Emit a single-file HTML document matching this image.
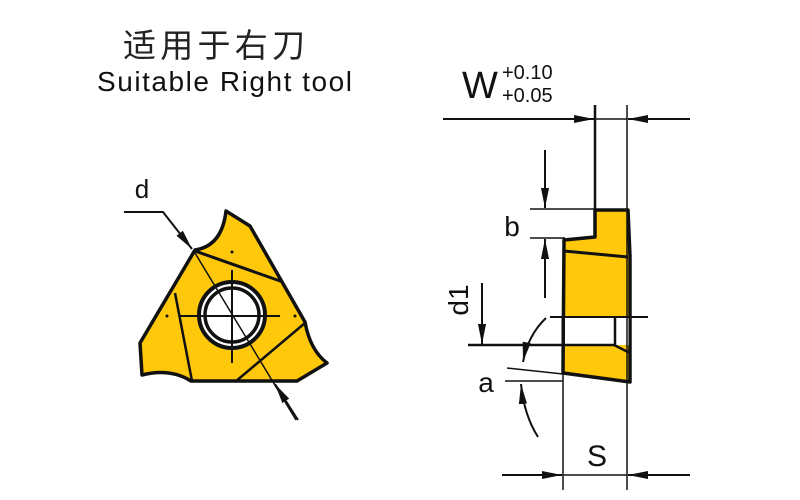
<!DOCTYPE html>
<html><head><meta charset="utf-8"><style>
html,body{margin:0;padding:0;background:#fff;width:800px;height:500px;overflow:hidden}
</style></head><body>
<svg width="800" height="500" viewBox="0 0 800 500" xmlns="http://www.w3.org/2000/svg">
<defs>
<marker id="ar" viewBox="0 0 10 10" refX="10" refY="5" markerWidth="20" markerHeight="9" markerUnits="userSpaceOnUse" orient="auto-start-reverse" preserveAspectRatio="none"><path d="M0,0.5 L10,5 L0,9.5 Z" fill="#111"/></marker>
</defs>
<text x="123" y="57" textLength="182" lengthAdjust="spacing" font-family="'Liberation Sans','Noto Sans CJK SC',sans-serif" font-size="33" fill="#222">适用于右刀</text>
<text x="97" y="91" textLength="255" lengthAdjust="spacing" font-family="'Liberation Sans',sans-serif" font-size="28" fill="#111">Suitable Right tool</text>

<!-- left insert -->
<path d="M226,211 L250,226 L305,322 Q310,350 327,363 L297,381 L191,381 Q170,368 142,375 L140,343 L195,250 Q222,246 226,211 Z" fill="#FFC80A" stroke="#111" stroke-width="3.5" stroke-linejoin="round"/>
<line x1="195" y1="251" x2="283" y2="282" stroke="#111" stroke-width="3"/>
<line x1="175" y1="293" x2="192" y2="381" stroke="#111" stroke-width="2.5"/>
<line x1="235" y1="382" x2="305" y2="323" stroke="#111" stroke-width="2.5"/>
<circle cx="232" cy="315" r="33" fill="#fff" stroke="#111" stroke-width="4"/>
<circle cx="232" cy="315" r="27" fill="#fff" stroke="#111" stroke-width="3.5"/>
<line x1="180" y1="316" x2="280" y2="316" stroke="#111" stroke-width="2"/>
<line x1="232" y1="270" x2="232" y2="363" stroke="#111" stroke-width="2"/>
<circle cx="167" cy="316" r="1.5" fill="#111"/><circle cx="295" cy="316" r="1.5" fill="#111"/><circle cx="232" cy="252" r="1.5" fill="#111"/>
<line x1="195" y1="253" x2="296" y2="420" stroke="#111" stroke-width="1.5"/>
<polyline points="124,212 163,212 192,249" fill="none" stroke="#111" stroke-width="2" marker-end="url(#ar)"/>
<line x1="298" y1="420" x2="275" y2="384" stroke="#111" stroke-width="2" marker-end="url(#ar)"/>
<text x="142" y="198" font-family="'Liberation Sans',sans-serif" font-size="26" text-anchor="middle" fill="#111">d</text>

<!-- right side view -->
<path d="M595,210 L628,210 L630,256 L630,382 L563,373 L564,240 L595,237 Z" fill="#FFC80A" stroke="#111" stroke-width="3.5" stroke-linejoin="round"/>
<line x1="564" y1="251" x2="628" y2="257" stroke="#111" stroke-width="3"/>
<rect x="565" y="318" width="64" height="27" fill="#fff"/>
<line x1="550" y1="317" x2="648" y2="317" stroke="#111" stroke-width="2"/>
<line x1="468" y1="345" x2="614" y2="345" stroke="#111" stroke-width="2.5"/>
<line x1="614" y1="345" x2="630" y2="353" stroke="#111" stroke-width="2.5"/>
<line x1="615" y1="317" x2="615" y2="345" stroke="#111" stroke-width="2.5"/>
<line x1="563" y1="317" x2="563" y2="373" stroke="#111" stroke-width="3"/>
<line x1="630" y1="317" x2="630" y2="382" stroke="#111" stroke-width="3"/>
<!-- extension lines -->
<line x1="595" y1="105" x2="595" y2="212" stroke="#111" stroke-width="2.5"/>
<line x1="627" y1="105" x2="627" y2="490" stroke="#111" stroke-width="1.5"/>
<line x1="563" y1="373" x2="563" y2="490" stroke="#111" stroke-width="1.5"/>
<!-- W -->
<line x1="443" y1="119" x2="594" y2="119" stroke="#111" stroke-width="2" marker-end="url(#ar)"/>
<line x1="690" y1="119" x2="628" y2="119" stroke="#111" stroke-width="2" marker-end="url(#ar)"/>
<line x1="595" y1="119" x2="627" y2="119" stroke="#111" stroke-width="1.5"/>
<text x="462" y="98" font-family="'Liberation Sans',sans-serif" font-size="38" fill="#111">W</text>
<text x="502" y="79" font-family="'Liberation Sans',sans-serif" font-size="20" fill="#111">+0.10</text>
<text x="502" y="102" font-family="'Liberation Sans',sans-serif" font-size="20" fill="#111">+0.05</text>
<!-- b -->
<line x1="530" y1="209" x2="596" y2="209" stroke="#111" stroke-width="1.5"/>
<line x1="530" y1="238" x2="565" y2="238" stroke="#111" stroke-width="1.5"/>
<line x1="545" y1="150" x2="545" y2="208" stroke="#111" stroke-width="2" marker-end="url(#ar)"/>
<line x1="545" y1="298" x2="545" y2="239" stroke="#111" stroke-width="2" marker-end="url(#ar)"/>
<text x="512" y="236" font-family="'Liberation Sans',sans-serif" font-size="28" text-anchor="middle" fill="#111">b</text>
<!-- d1 -->
<line x1="482" y1="283" x2="482" y2="344" stroke="#111" stroke-width="2" marker-end="url(#ar)"/>
<text transform="translate(468,300) rotate(-90)" font-family="'Liberation Sans',sans-serif" font-size="28" text-anchor="middle" fill="#111">d1</text>
<!-- a -->
<line x1="507" y1="368" x2="563" y2="374" stroke="#111" stroke-width="1.5"/>
<line x1="505" y1="381" x2="563" y2="381" stroke="#111" stroke-width="1.5"/>
<path d="M546,318 Q528,335 523,362" fill="none" stroke="#111" stroke-width="2" marker-end="url(#ar)"/>
<path d="M538,437 Q524,415 521,384" fill="none" stroke="#111" stroke-width="2" marker-end="url(#ar)"/>
<text x="486" y="392" font-family="'Liberation Sans',sans-serif" font-size="28" text-anchor="middle" fill="#111">a</text>
<!-- S -->
<line x1="502" y1="475" x2="562" y2="475" stroke="#111" stroke-width="2" marker-end="url(#ar)"/>
<line x1="690" y1="475" x2="628" y2="475" stroke="#111" stroke-width="2" marker-end="url(#ar)"/>
<line x1="563" y1="475" x2="627" y2="475" stroke="#111" stroke-width="1.5"/>
<text x="597" y="466" font-family="'Liberation Sans',sans-serif" font-size="30" text-anchor="middle" fill="#111">S</text>
</svg>
</body></html>
